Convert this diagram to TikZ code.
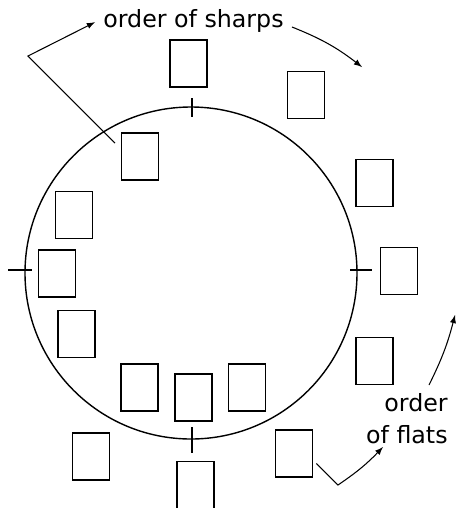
\documentclass[tikz,border=0pt]{standalone}
\usepackage{fontspec}
\setmainfont{DejaVu Sans}
\usetikzlibrary{calc, positioning}

\tikzset{
    keybox/.style={draw, line width=1.1pt, minimum width=0.74cm, minimum height=0.94cm, inner sep=0pt},
    lbl/.style={font=\fontsize{13.5}{18.2}\selectfont, inner sep=0.16cm},
    pointer/.style={->, line width=0.6pt}
}

\begin{document}
\begin{tikzpicture}[>=latex, x=0.02cm, y=-0.02cm]
    \useasboundingbox (0,0) rectangle (457,508);

    % Vong tron va cac vach
    \draw[line width=0.8pt] (191,273) circle[radius=166];
    \draw[line width=0.8pt] (192,98) -- (192,117);
    \draw[line width=0.8pt] (192,427) -- (192,453);
    \draw[line width=0.8pt] (8,270) -- (32,270);
    \draw[line width=0.8pt] (350,270) -- (372,270);

    % Cac o ben ngoai
    \node[keybox] (out12) at (188.5,63.5) {};
    \node[keybox] (out1) at (306,95) {};
    \node[keybox] (out2) at (374.5,183) {};
    \node[keybox] (out3) at (399,271) {};
    \node[keybox] (out4) at (374.5,361) {};
    \node[keybox] (out5) at (294,453.5) {};
    \node[keybox] (out6) at (195.5,485) {};
    \node[keybox] (out7) at (91,456.5) {};

    % Cac o ben trong
    \node[keybox] (in11) at (140,156.5) {};
    \node[keybox] (in10) at (74,215) {};
    \node[keybox] (in9) at (57,273.5) {};
    \node[keybox] (in8) at (76.5,334) {};
    \node[keybox] (in7) at (139.5,387.5) {};
    \node[keybox] (in6) at (193.5,397.5) {};
    \node[keybox] (in5) at (247,387.5) {};

    % Nhan
    \node[lbl, anchor=base] (sharps) at (193.5,27) {order of sharps};
    \node[lbl, anchor=north east, align=right] (flats) at (456,385) {order\\of flats};

    % Mui ten
    \coordinate (sharpstart) at (115,143);
    \coordinate (sharpbend) at (28,56);
    \coordinate (sharpend) at (362,67);
    \draw[pointer] (sharpstart) -- (sharpbend) -- (sharps.mid west);
    \draw[pointer] (sharps.base east) to[bend left=8] (sharpend);

    \coordinate (flatup) at (455,315);
    \coordinate (flatbend) at (338,485);
    \coordinate (flatend) at (383,447);
    \draw[pointer] ($(flats.north east)+(-27,0)$) to[bend right=6] (flatup);
    \draw[pointer] ($(out5.east)+(3,10)$) -- (flatbend) to[bend right=6] (flatend);
\end{tikzpicture}
\end{document}
